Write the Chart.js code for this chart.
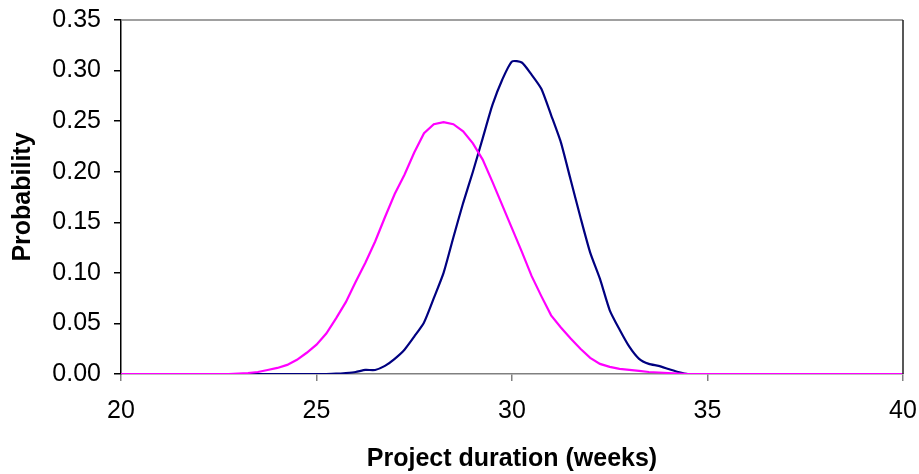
<!DOCTYPE html>
<html>
<head>
<meta charset="utf-8">
<script src="https://cdn.jsdelivr.net/npm/chart.js@4"></script>
<style>
  html, body { margin: 0; padding: 0; background: #fff; }
  #chart { display: block; }
</style>
</head>
<body>
<canvas id="chart" width="919" height="474"></canvas>
<script>
// project duration in weeks
const weeks = [20, 22.75, 23, 23.25, 23.5, 23.75, 24, 24.25, 24.5, 24.75,
  25, 25.25, 25.5, 25.75, 26, 26.25, 26.5, 26.75, 27, 27.25,
  27.5, 27.75, 28, 28.25, 28.5, 28.75, 29, 29.25, 29.5, 29.75,
  30, 30.25, 30.5, 30.75, 31, 31.25, 31.5, 31.75, 32, 32.25,
  32.5, 32.75, 33, 33.25, 33.5, 33.75, 34, 34.25, 34.5, 40]

// magenta curve
const pinkProb = [0, 0, 0.0005, 0.001, 0.002, 0.004, 0.006, 0.009, 0.014, 0.021,
  0.029, 0.040, 0.055, 0.071, 0.091, 0.110, 0.131, 0.155, 0.178, 0.197,
  0.219, 0.238, 0.247, 0.249, 0.247, 0.240, 0.228, 0.212, 0.190, 0.167,
  0.144, 0.121, 0.097, 0.077, 0.058, 0.046, 0.035, 0.025, 0.016, 0.010,
  0.007, 0.005, 0.004, 0.003, 0.002, 0.0015, 0.001, 0.0005, 0, 0]

// navy curve
const blueProb = [0, 0, 0, 0, 0, 0, 0, 0, 0, 0,
  0, 0, 0.0003, 0.001, 0.002, 0.004, 0.004, 0.008, 0.015, 0.024,
  0.037, 0.051, 0.075, 0.100, 0.135, 0.169, 0.200, 0.233, 0.266, 0.291,
  0.309, 0.308, 0.296, 0.282, 0.256, 0.229, 0.192, 0.155, 0.120, 0.094,
  0.063, 0.044, 0.027, 0.015, 0.010, 0.008, 0.005, 0.002, 0, 0]

const xTicks = [20, 25, 30, 35, 40]
const yTicks = [0, 0.05, 0.10, 0.15, 0.20, 0.25, 0.30, 0.35]

const toPoints = vals => weeks.map((w, i) => ({ x: w, y: vals[i] }))

// draws the top and right edges of the plot box
const frame = {
  id: 'frame',
  afterDraw(chart) {
    const { ctx, chartArea: a } = chart
    ctx.save()
    ctx.lineWidth = 1.5
    ctx.strokeStyle = '#808080'
    ctx.beginPath()
    ctx.moveTo(a.left, a.top)
    ctx.lineTo(a.right, a.top)
    ctx.stroke()
    ctx.strokeStyle = '#202020'
    ctx.beginPath()
    ctx.moveTo(a.right, a.top)
    ctx.lineTo(a.right, a.bottom)
    ctx.stroke()
    ctx.restore()
  }
}

new Chart(document.getElementById('chart'), {
  type: 'line',
  plugins: [frame],
  data: {
    datasets: [
      {
        data: toPoints(pinkProb),
        borderColor: '#FF00FF',
        borderWidth: 2.2,
        pointRadius: 0,
        tension: 0
      },
      {
        data: toPoints(blueProb),
        borderColor: '#000080',
        borderWidth: 2.2,
        pointRadius: 0,
        tension: 0.2
      }
    ]
  },
  options: {
    responsive: false,
    animation: false,
    layout: { padding: { top: 20, right: 16, bottom: 0, left: 0 } },
    plugins: {
      legend: { display: false },
      tooltip: { enabled: false }
    },
    scales: {
      x: {
        type: 'linear',
        min: 20,
        max: 40,
        afterBuildTicks: s => { s.ticks = xTicks.map(v => ({ value: v })) },
        afterFit: s => {
          s.height = 100
          s.paddingLeft = 0
          s.paddingRight = 0
        },
        grid: { drawOnChartArea: false, tickLength: 7, color: '#808080', lineWidth: 1.5 },
        border: { color: '#808080', width: 1.5 },
        ticks: {
          color: '#000',
          padding: 15,
          maxRotation: 0,
          font: { family: 'Liberation Sans, Arial', size: 25 }
        },
        title: {
          display: true,
          text: 'Project duration (weeks)',
          color: '#000',
          font: { family: 'Liberation Sans, Arial', size: 25, weight: 'bold' },
          padding: { top: 0, bottom: 0 }
        }
      },
      y: {
        min: 0,
        max: 0.35,
        afterBuildTicks: s => { s.ticks = yTicks.map(v => ({ value: v })) },
        afterFit: s => {
          s.width = 121
          s.paddingTop = 0
          s.paddingBottom = 0
        },
        grid: { drawOnChartArea: false, tickLength: 7, color: '#000', lineWidth: 1.5 },
        border: { color: '#000', width: 1.5 },
        ticks: {
          color: '#000',
          padding: 13,
          callback: v => v.toFixed(2),
          font: { family: 'Liberation Sans, Arial', size: 25 }
        },
        title: {
          display: true,
          text: 'Probability',
          color: '#000',
          font: { family: 'Liberation Sans, Arial', size: 25, weight: 'bold' },
          padding: { top: 8, bottom: 0 }
        }
      }
    }
  }
})
</script>
</body>
</html>
